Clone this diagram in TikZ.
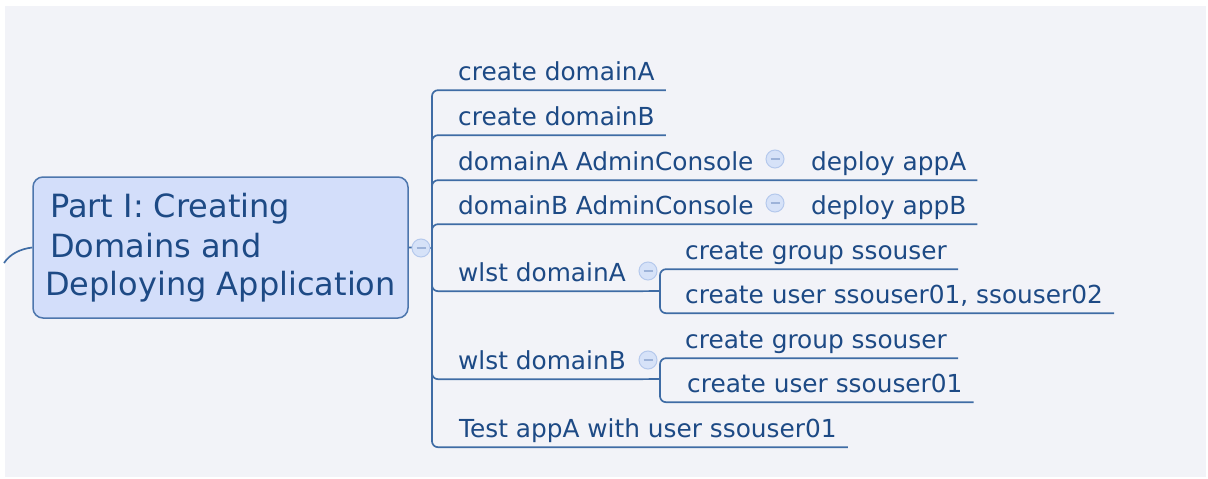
\documentclass[tikz,border=0pt]{standalone}
\usepackage{fontspec}
\setmainfont{DejaVu Sans}
\definecolor{bgcol}{HTML}{F2F3F8}
\definecolor{inkcol}{HTML}{1D4A85}
\definecolor{linecol}{HTML}{3F6CA5}
\definecolor{rootfill}{HTML}{D3DEFA}
\definecolor{rootline}{HTML}{4D76AD}
\definecolor{tglfill}{HTML}{D6E2F8}
\definecolor{tglline}{HTML}{B5C9EC}
\definecolor{minuscol}{HTML}{9DB3D9}
\tikzset{
	rootbox/.style={draw=rootline,line width=1.5pt,fill=rootfill,rounded corners=10pt,
		minimum width=375pt,minimum height=141pt,align=left,text=inkcol,
		font=\fontsize{32}{38}\selectfont},
	topic/.style={anchor=base west,inner xsep=11pt,inner ysep=10pt,text depth=0pt,
		text=inkcol,font=\fontsize{24.8}{29}\selectfont},
	branch/.style={draw=linecol,line width=1.7pt,rounded corners=6pt},
	tgl/.style={circle,draw=tglline,fill=tglfill,line width=1pt,minimum size=18pt,inner sep=0pt,
		path picture={\draw[minuscol,line width=1.5pt]
			([xshift=-4.5pt]path picture bounding box.center) -- ([xshift=4.5pt]path picture bounding box.center);}}
}
\begin{document}
\begin{tikzpicture}[x=1pt,y=-1pt]
	\useasboundingbox (0,0) rectangle (1208,479);
	\fill[bgcol] (5,6) rectangle (1206,477);
	\node (root) [rootbox] at (220.5,247.5) {\hspace*{5pt}Part I: Creating\\[2pt]\hspace*{5pt}Domains and\\Deploying Application};
	\coordinate (up) at (4,263);
	\coordinate (sp) at (432,248);
	\coordinate (jA) at (660,291);
	\coordinate (jB) at (660,379);
	\node (cdA) [topic] at (447,80) {create domainA};
	\node (cdB) [topic] at (447,125) {create domainB};
	\node (acA) [topic] at (447,170) {domainA AdminConsole};
	\node (depA) [topic] at (800,170) {deploy appA};
	\node (acB) [topic] at (447,214) {domainB AdminConsole};
	\node (depB) [topic] at (800,214) {deploy appB};
	\node (wlA) [topic] at (447,281) {wlst domainA};
	\node (grpA) [topic] at (674,259) {create group ssouser};
	\node (usrA) [topic] at (674,303) {create user ssouser01, ssouser02};
	\node (wlB) [topic] at (447,369) {wlst domainB};
	\node (grpB) [topic] at (674,348) {create group ssouser};
	\node (usrB) [topic] at (676,392) {create user ssouser01};
	\node (test) [topic] at (448,437) {Test appA with user ssouser01};
	\draw[branch] (root.west) .. controls (20,249) and (10,254) .. (up);
	\draw[branch] (root.east) -- (sp);
	\draw[branch] (sp) |- (cdA.south east);
	\draw[branch] (sp) |- (cdB.south east);
	\draw[branch] (sp) |- (acA.south east) -- (depA.south east);
	\draw[branch] (sp) |- (acB.south east) -- (depB.south east);
	\draw[branch] (sp) |- (wlA.south east) -- (jA);
	\draw[branch] (jA) |- (grpA.south east);
	\draw[branch] (jA) |- (usrA.south east);
	\draw[branch] (sp) |- (wlB.south east) -- (jB);
	\draw[branch] (jB) |- (grpB.south east);
	\draw[branch] (jB) |- (usrB.south east);
	\draw[branch] (sp) |- (test.south east);
	\node (tglRoot) [tgl] at (421,248) {};
	\node (tglAcA) [tgl] at (775,159) {};
	\node (tglAcB) [tgl] at (775,203) {};
	\node (tglWlA) [tgl] at (648,271) {};
	\node (tglWlB) [tgl] at (648,360) {};
\end{tikzpicture}
\end{document}
